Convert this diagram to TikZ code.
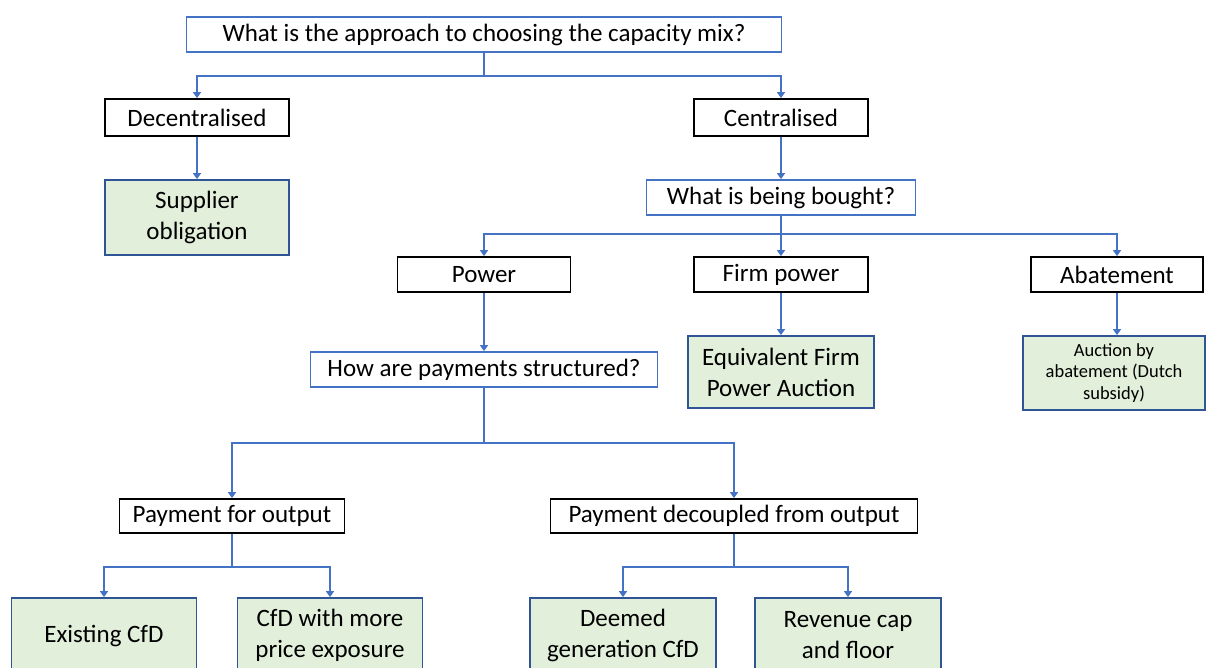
\documentclass[tikz,border=0pt]{standalone}
\usepackage{fontspec}
\setmainfont{Carlito}
\usetikzlibrary{arrows.meta}
\definecolor{qblue}{HTML}{4472C4}
\definecolor{leafedge}{HTML}{2F5597}
\definecolor{leaffill}{HTML}{E2EFDA}
\tikzset{
  base/.style={rectangle, inner sep=0pt, line width=1.8pt, align=center, font=\fontsize{25}{31}\selectfont},
  qbox/.style={base, draw=qblue, fill=white},
  cbox/.style={base, draw=black, fill=white},
  leaf/.style={base, draw=leafedge, fill=leaffill},
  conn/.style={draw=qblue, line width=1.8pt, -{Triangle[length=6pt,width=8pt]}},
}
\begin{document}
\begin{tikzpicture}[x=1pt,y=-1pt]
\useasboundingbox (0,0) rectangle (1206,668);
\clip (0,0) rectangle (1206,668);
\fill[white] (0,0) rectangle (1206,668);

% questions
\node[qbox, minimum width=595pt, minimum height=35pt] (top) at (484,34.5) {What is the approach to choosing the capacity mix?};
\node[qbox, minimum width=269pt, minimum height=35pt] (bought) at (781,197.5) {What is being bought?};
\node[qbox, minimum width=347pt, minimum height=35pt] (pay) at (484,369.5) {How are payments structured?};

% categories
\node[cbox, minimum width=184pt, minimum height=37pt] (dec) at (197,117.5) {Decentralised};
\node[cbox, minimum width=174pt, minimum height=37pt] (cen) at (781,117.5) {Centralised};
\node[cbox, minimum width=173pt, minimum height=35pt] (power) at (484,274.5) {Power};
\node[cbox, minimum width=174pt, minimum height=35pt] (firm) at (781,274.5) {Firm power};
\node[cbox, minimum width=172pt, minimum height=35pt] (abate) at (1117,274.5) {Abatement};
\node[cbox, minimum width=225pt, minimum height=34pt] (out) at (232,516) {Payment for output};
\node[cbox, minimum width=367pt, minimum height=34pt] (decoup) at (734,516) {Payment decoupled from output};

% options
\node[leaf, minimum width=184pt, minimum height=75pt] (supp) at (197,217.5) {Supplier\\obligation};
\node[leaf, minimum width=186pt, minimum height=72pt] (efpa) at (781,372) {Equivalent Firm\\Power Auction};
\node[leaf, minimum width=182pt, minimum height=74pt, font=\fontsize{18.5}{21.5}\selectfont] (dutch) at (1114,373) {Auction by\\abatement (Dutch\\subsidy)};
\node[leaf, minimum width=185pt, minimum height=75pt] (exist) at (104,635.5) {Existing CfD};
\node[leaf, minimum width=185pt, minimum height=75pt] (expo) at (330,635.5) {CfD with more\\price exposure};
\node[leaf, minimum width=186pt, minimum height=75pt] (deemed) at (623,635.5) {Deemed\\generation CfD};
\node[leaf, minimum width=186pt, minimum height=75pt] (rev) at (848,635.5) {Revenue cap\\and floor};

% connectors
\draw[conn] (top.south) -- ++(0,23) -| (dec.north);
\draw[conn] (top.south) -- ++(0,23) -| (cen.north);
\draw[conn] (dec.south) -- (supp.north);
\draw[conn] (cen.south) -- (bought.north);
\draw[conn] (bought.south) -- ++(0,18) -| (power.north);
\draw[conn] (bought.south) -- ++(0,18) -| (firm.north);
\draw[conn] (bought.south) -- ++(0,18) -| (abate.north);
\draw[conn] (power.south) -- (pay.north);
\draw[conn] (firm.south) -- (efpa.north);
\draw[conn] (abate.south) -- (abate.south |- dutch.north);
\draw[conn] (pay.south) -- ++(0,55) -| (out.north);
\draw[conn] (pay.south) -- ++(0,55) -| (decoup.north);
\draw[conn] (out.south) -- ++(0,33) -| (exist.north);
\draw[conn] (out.south) -- ++(0,33) -| (expo.north);
\draw[conn] (decoup.south) -- ++(0,33) -| (deemed.north);
\draw[conn] (decoup.south) -- ++(0,33) -| (rev.north);
\end{tikzpicture}
\end{document}
